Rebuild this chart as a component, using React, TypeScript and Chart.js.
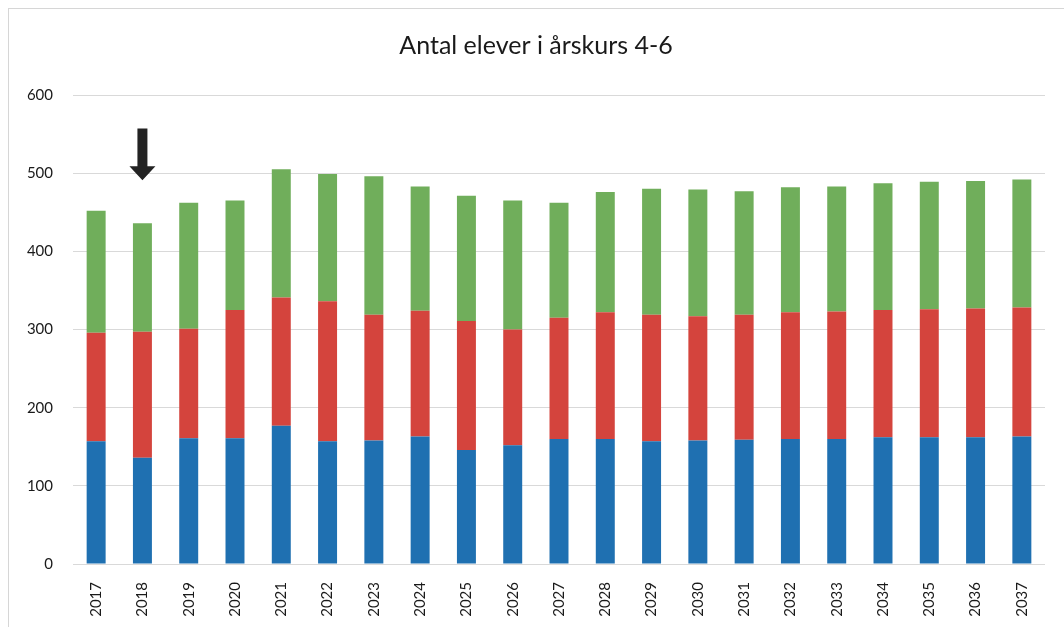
import React, { useEffect, useRef } from "react";
import { Chart, registerables } from "chart.js";

Chart.register(...registerables);

const years = ["2017","2018","2019","2020","2021","2022","2023","2024","2025","2026","2027","2028","2029","2030","2031","2032","2033","2034","2035","2036","2037"];
const grade4 = [157,136,161,161,177,157,158,163,146,152,160,160,157,158,159,160,160,162,162,162,163];
const grade5 = [139,161,140,164,164,179,161,161,165,148,155,162,162,159,160,162,163,163,164,165,165];
const grade6 = [156,139,161,140,164,163,177,159,160,165,147,154,161,162,158,160,160,162,163,163,164];
const titleText = "Antal elever i årskurs 4-6";
const yTicks = [0, 100, 200, 300, 400, 500, 600];

// arrow marker above the 2018 bar (category index, value range)
const arrowIndex = 1;
const arrowTop = 557;
const arrowHeadStart = 509;
const arrowTip = 491;

const FONT = "Lato, 'Open Sans', sans-serif";

const titlePlugin = {
  id: "centeredTitle",
  afterDraw(chart: any) {
    const { ctx } = chart;
    ctx.save();
    ctx.fillStyle = "#1a1a1a";
    ctx.font = `25px ${FONT}`;
    ctx.textAlign = "center";
    ctx.textBaseline = "middle";
    ctx.fillText(titleText, 536, 46);
    ctx.restore();
  },
};

const arrowPlugin = {
  id: "arrowMarker",
  afterDatasetsDraw(chart: any) {
    const { ctx, scales } = chart;
    const x = scales.x.getPixelForValue(arrowIndex);
    const yTop = scales.y.getPixelForValue(arrowTop);
    const yHead = scales.y.getPixelForValue(arrowHeadStart);
    const yTip = scales.y.getPixelForValue(arrowTip);
    ctx.save();
    ctx.fillStyle = "#232323";
    ctx.beginPath();
    ctx.moveTo(x - 5, yTop);
    ctx.lineTo(x + 5, yTop);
    ctx.lineTo(x + 5, yHead);
    ctx.lineTo(x + 13, yHead);
    ctx.lineTo(x, yTip);
    ctx.lineTo(x - 13, yHead);
    ctx.lineTo(x - 5, yHead);
    ctx.closePath();
    ctx.fill();
    ctx.restore();
  },
};

export default function App() {
  const ref = useRef<HTMLCanvasElement | null>(null);
  useEffect(() => {
    document.body.style.margin = "0";
    const chart = new Chart(ref.current as HTMLCanvasElement, {
      type: "bar",
      data: {
        labels: years,
        datasets: [
          { label: "Åk 4", data: grade4, backgroundColor: "#1f70b1", barPercentage: 0.41, categoryPercentage: 1 },
          { label: "Åk 5", data: grade5, backgroundColor: "#d4443d", barPercentage: 0.41, categoryPercentage: 1 },
          { label: "Åk 6", data: grade6, backgroundColor: "#70ae5b", barPercentage: 0.41, categoryPercentage: 1 },
        ],
      },
      options: {
        animation: false,
        responsive: false,
        maintainAspectRatio: false,
        layout: { padding: { left: 0, right: 19, top: 95, bottom: 0 } },
        plugins: {
          legend: { display: false },
          tooltip: { enabled: false },
          title: { display: false },
        },
        scales: {
          x: {
            stacked: true,
            grid: { display: false },
            border: { display: false },
            ticks: {
              color: "#1a1a1a",
              font: { family: FONT, size: 15 },
              minRotation: 90,
              maxRotation: 90,
              padding: 10,
            },
            afterFit(s: any) { s.height = 63; },
          },
          y: {
            stacked: true,
            min: 0,
            max: 600,
            afterBuildTicks(s: any) { s.ticks = yTicks.map((v) => ({ value: v })); },
            grid: { color: "#d9d9d9", lineWidth: 1, drawTicks: false },
            border: { display: false },
            ticks: {
              color: "#1a1a1a",
              font: { family: FONT, size: 15 },
              padding: 20,
            },
            afterFit(s: any) { s.width = 73; },
          },
        },
      },
      plugins: [arrowPlugin, titlePlugin],
    });
    return () => chart.destroy();
  }, []);
  return (
    <div style={{ position: "relative", width: 1064, height: 627, overflow: "hidden", background: "#fff" }}>
      <canvas ref={ref} width={1064} height={627} style={{ position: "absolute", left: 0, top: 0 }} />
      <div style={{ position: "absolute", left: 8, top: 8, width: 1100, height: 700, border: "1px solid #d6d6d6", pointerEvents: "none" }} />
    </div>
  );
}
